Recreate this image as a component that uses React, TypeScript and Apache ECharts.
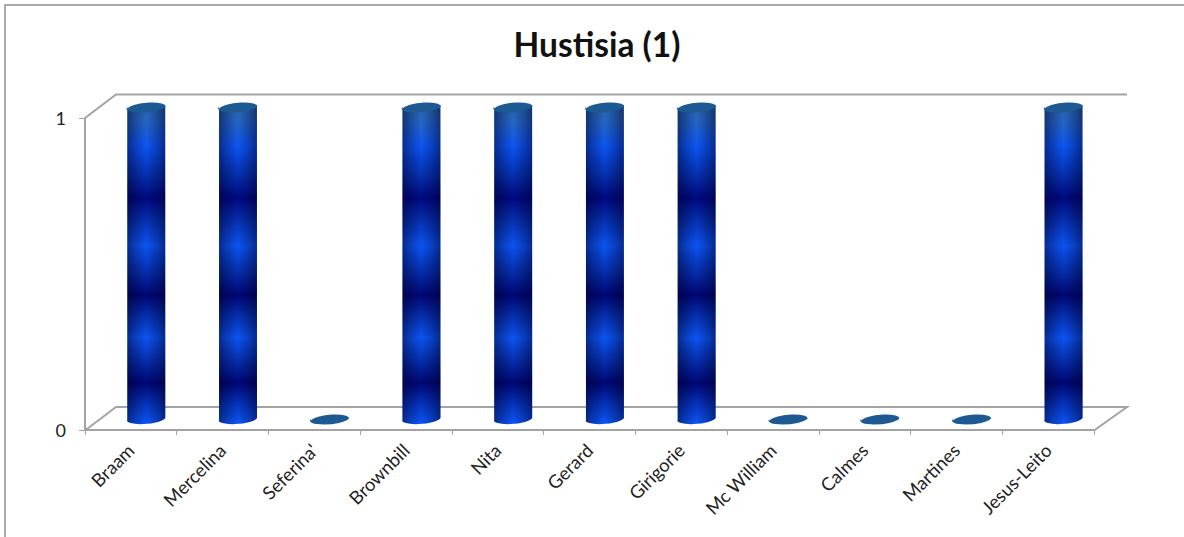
import React, { useEffect, useRef } from "react";
import * as echarts from "echarts";

const titleText = "Hustisia (1)";
const categories = ["Braam", "Mercelina", "Seferina'", "Brownbill", "Nita", "Gerard", "Girigorie", "Mc William", "Calmes", "Martines", "Jesus-Leito"];
const values = [1, 1, 0, 1, 1, 1, 1, 0, 0, 0, 1];
const yTicks = [0, 1];

const GRID = { left: 85, right: 90, top: 118, bottom: 107 };
const DEPTH_X = 15.4;
const DEPTH_Y = 12;
const RX = 19;
const RY = 5;
const TILT = -5;

const capPath = (cx: number, cy: number) => {
  const r = (TILT * Math.PI) / 180;
  const dx = RX * Math.cos(r);
  const dy = RX * Math.sin(r);
  return `M${cx - dx} ${cy - dy}A${RX} ${RY} ${TILT} 1 1 ${cx + dx} ${cy + dy}A${RX} ${RY} ${TILT} 1 1 ${cx - dx} ${cy - dy}Z`;
};

const bodyPath = (cx: number, top: number, bottom: number) => {
  const r = (TILT * Math.PI) / 180;
  const dx = RX * Math.cos(r);
  const dy = RX * Math.sin(r);
  return `M${cx - dx} ${top - dy}L${cx - dx} ${bottom - dy}A${RX} ${RY} ${TILT} 0 0 ${cx + dx} ${bottom + dy}L${cx + dx} ${top + dy}Z`;
};

const verticalFill = () =>
  new echarts.graphic.LinearGradient(0, 0, 0, 1, [
    { offset: 0, color: "#2a66ac" },
    { offset: 0.05, color: "#2566c4" },
    { offset: 0.13, color: "#0c55f4" },
    { offset: 0.22, color: "#0630b0" },
    { offset: 0.29, color: "#000880" },
    { offset: 0.36, color: "#0630b0" },
    { offset: 0.44, color: "#0c55f4" },
    { offset: 0.52, color: "#0630b0" },
    { offset: 0.595, color: "#000674" },
    { offset: 0.66, color: "#0630b0" },
    { offset: 0.73, color: "#0c55f4" },
    { offset: 0.8, color: "#0630b0" },
    { offset: 0.87, color: "#000674" },
    { offset: 0.94, color: "#0636c0" },
    { offset: 1, color: "#0c58f8" },
  ]);

const horizontalShade = () =>
  new echarts.graphic.LinearGradient(0, 0, 1, 0, [
    { offset: 0, color: "rgba(0,0,40,0.5)" },
    { offset: 0.2, color: "rgba(0,0,40,0.27)" },
    { offset: 0.5, color: "rgba(0,0,40,0)" },
    { offset: 0.8, color: "rgba(0,0,40,0.27)" },
    { offset: 1, color: "rgba(0,0,40,0.5)" },
  ]);

export default function App() {
  const ref = useRef<HTMLDivElement>(null);

  useEffect(() => {
    const chart = echarts.init(ref.current!, undefined, { renderer: "svg" });
    const lineStyle = { stroke: "#a3a3a3", lineWidth: 2, fill: "none" };
    chart.setOption({
      animation: false,
      backgroundColor: "#ffffff",
      title: {
        text: titleText,
        left: 592,
        top: 22,
        textAlign: "center",
        textStyle: { fontFamily: "Lato", fontWeight: "bold", fontSize: 33.5, color: "#111111" },
      },
      grid: GRID,
      xAxis: {
        type: "category",
        data: categories,
        axisLine: { lineStyle: { color: "#a3a3a3", width: 2 } },
        axisTick: { show: true, alignWithLabel: false, length: 5, lineStyle: { color: "#a3a3a3", width: 1 } },
        axisLabel: { rotate: 45, interval: 0, margin: 17, fontFamily: "Lato", fontSize: 18.4, color: "#222222" },
      },
      yAxis: {
        type: "value",
        min: 0,
        max: 1,
        interval: 1,
        splitLine: { show: false },
        axisLine: { show: true, lineStyle: { color: "#a3a3a3", width: 2 } },
        axisTick: { show: true, length: 6, lineStyle: { color: "#a3a3a3", width: 1 } },
        axisLabel: {
          margin: 19,
          fontFamily: "Lato",
          fontSize: 18,
          color: "#222222",
          formatter: (v: number) => (yTicks.includes(v) ? String(v) : ""),
        },
      },
      graphic: [
        { type: "polyline", shape: { points: [[5, 537], [5, 5], [1184, 5]] }, style: { stroke: "#8f8f8f", lineWidth: 1.5, fill: "none" }, silent: true },
        { type: "polyline", shape: { points: [[85, 118], [116, 94.5], [1127, 94.5]] }, style: lineStyle, silent: true },
        { type: "polyline", shape: { points: [[85, 430.5], [116, 407], [1127, 407], [1094, 430.5]] }, style: lineStyle, silent: true },
      ],
      series: [
        {
          type: "custom",
          coordinateSystem: "cartesian2d",
          data: values.map((v, i) => [i, v]),
          encode: { x: 0, y: 1 },
          renderItem: (_p: unknown, api: any) => {
            const [cx0, top0] = api.coord([api.value(0), api.value(1)]);
            const [, bottom0] = api.coord([api.value(0), 0]);
            const cx = cx0 + DEPTH_X;
            const top = top0 - DEPTH_Y + 1;
            const bottom = bottom0 - DEPTH_Y;
            const children: any[] = [];
            if (bottom - top > 1) {
              const d = bodyPath(cx, top, bottom);
              children.push({ type: "path", shape: { pathData: d }, style: { fill: verticalFill() } });
              children.push({ type: "path", shape: { pathData: d }, style: { fill: horizontalShade() } });
            }
            children.push({ type: "path", shape: { pathData: capPath(cx, top) }, style: { fill: "#1d5a94" } });
            return { type: "group", children };
          },
        },
      ],
    });
    return () => chart.dispose();
  }, []);

  return <div ref={ref} style={{ position: "absolute", left: 0, top: 0, width: 1184, height: 537 }} />;
}
